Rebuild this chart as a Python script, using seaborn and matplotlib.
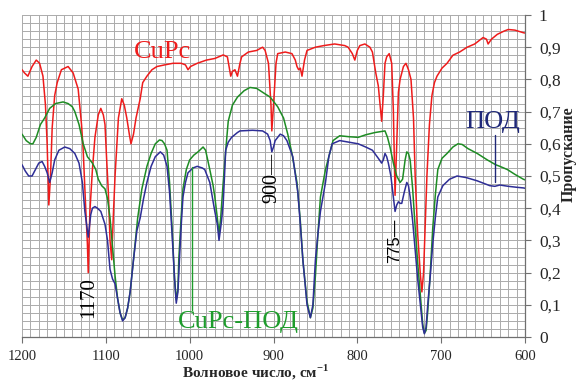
import numpy as np
import pandas as pd
import matplotlib
matplotlib.use("Agg")
import matplotlib.pyplot as plt
from matplotlib.ticker import FuncFormatter
import seaborn as sns

# ---------------- data (wavenumber, transmittance) ----------------
cupc_w = [1200, 1197, 1193, 1188, 1183, 1179, 1175, 1172, 1170, 1168, 1166, 1164, 1161, 1158,
          1153, 1145, 1139, 1133, 1129, 1127, 1124, 1122, 1121, 1119, 1116, 1113, 1109, 1106,
          1103, 1101, 1099, 1097, 1095, 1093, 1091, 1089, 1085, 1081, 1078, 1075, 1072, 1070,
          1067, 1064, 1059, 1056, 1051, 1045, 1039, 1030, 1020, 1010, 1005, 1002, 999, 991,
          980, 970, 960, 955, 951, 949, 946, 943, 940, 938, 930, 920, 913, 910, 906, 903, 902,
          900, 897, 895, 886, 878, 874, 872, 870, 868, 866, 863, 860, 850, 840, 827, 815, 811,
          806, 803, 800, 797, 791, 785, 782, 778, 775, 772, 771, 769, 767, 765, 762, 759, 757,
          755, 753, 751, 749, 745, 742, 739, 736, 733, 731, 728, 725, 723, 721, 719, 717, 714,
          711, 708, 705, 699, 693, 686, 678, 669, 660, 650, 646, 644, 640, 633, 625, 620, 612,
          602, 600]
cupc_t = [0.83, 0.82, 0.81, 0.84, 0.86, 0.85, 0.81, 0.72, 0.60, 0.41, 0.50, 0.65, 0.75, 0.79,
          0.83, 0.84, 0.82, 0.77, 0.66, 0.58, 0.40, 0.29, 0.20, 0.39, 0.52, 0.62, 0.69, 0.71,
          0.69, 0.66, 0.55, 0.45, 0.30, 0.24, 0.38, 0.50, 0.68, 0.74, 0.72, 0.68, 0.63, 0.60,
          0.63, 0.68, 0.74, 0.79, 0.81, 0.83, 0.84, 0.845, 0.85, 0.85, 0.845, 0.83, 0.84, 0.85,
          0.86, 0.865, 0.876, 0.87, 0.81, 0.825, 0.83, 0.81, 0.85, 0.87, 0.885, 0.89, 0.90, 0.89,
          0.85, 0.72, 0.64, 0.72, 0.85, 0.88, 0.885, 0.88, 0.86, 0.84, 0.83, 0.835, 0.81, 0.86,
          0.89, 0.90, 0.905, 0.91, 0.905, 0.90, 0.88, 0.86, 0.89, 0.905, 0.91, 0.90, 0.885, 0.82,
          0.78, 0.70, 0.67, 0.75, 0.85, 0.87, 0.88, 0.85, 0.70, 0.44, 0.60, 0.76, 0.80, 0.84,
          0.85, 0.83, 0.80, 0.68, 0.50, 0.32, 0.20, 0.14, 0.20, 0.35, 0.50, 0.66, 0.75, 0.79,
          0.81, 0.835, 0.85, 0.875, 0.885, 0.90, 0.91, 0.93, 0.925, 0.91, 0.925, 0.94, 0.95,
          0.955, 0.953, 0.945, 0.944]

mix_w = [1200, 1195, 1190, 1187, 1183, 1178, 1173, 1167, 1160, 1151, 1145, 1140, 1137, 1132,
         1127, 1122, 1116, 1112, 1109, 1105, 1101, 1098, 1095, 1092, 1089, 1086, 1083, 1080,
         1077, 1074, 1071, 1067, 1062, 1057, 1051, 1046, 1041, 1036, 1033, 1030, 1027, 1024,
         1021, 1018, 1016, 1014, 1013, 1010, 1008, 1004, 1000, 995, 990, 984, 981, 976, 972,
         970, 967, 965, 963, 960, 957, 954, 949, 943, 935, 928, 920, 913, 904, 895, 888, 883,
         878, 872, 868, 865, 860, 856, 853, 850, 847, 844, 838, 833, 829, 821, 810, 799, 790,
         779, 772, 767, 764, 761, 757, 753, 749, 746, 743, 741, 739, 737, 734, 731, 728, 725,
         722, 720, 718, 716, 713, 710, 707, 704, 699, 693, 686, 680, 675, 668, 657, 645, 635,
         630, 621, 612, 602, 600]
mix_t = [0.63, 0.61, 0.60, 0.60, 0.62, 0.66, 0.68, 0.71, 0.725, 0.73, 0.725, 0.715, 0.70,
         0.66, 0.60, 0.56, 0.54, 0.52, 0.49, 0.47, 0.46, 0.43, 0.37, 0.28, 0.19, 0.12, 0.075,
         0.053, 0.06, 0.09, 0.14, 0.24, 0.37, 0.46, 0.53, 0.57, 0.60, 0.612, 0.61, 0.60, 0.58,
         0.48, 0.34, 0.18, 0.115, 0.15, 0.24, 0.38, 0.46, 0.52, 0.55, 0.565, 0.575, 0.59, 0.58,
         0.52, 0.47, 0.435, 0.37, 0.32, 0.37, 0.48, 0.58, 0.67, 0.72, 0.745, 0.765, 0.775,
         0.772, 0.76, 0.745, 0.715, 0.68, 0.63, 0.57, 0.48, 0.36, 0.24, 0.11, 0.06, 0.09, 0.19,
         0.32, 0.435, 0.52, 0.57, 0.61, 0.625, 0.622, 0.62, 0.628, 0.635, 0.638, 0.64, 0.62,
         0.59, 0.54, 0.50, 0.48, 0.49, 0.55, 0.575, 0.57, 0.55, 0.46, 0.34, 0.23, 0.135, 0.04,
         0.012, 0.02, 0.08, 0.20, 0.34, 0.44, 0.52, 0.555, 0.57, 0.59, 0.60, 0.598, 0.585,
         0.57, 0.55, 0.535, 0.53, 0.52, 0.505, 0.49, 0.488]

pod_w = [1200, 1196, 1192, 1188, 1184, 1180, 1176, 1173, 1170, 1167, 1164, 1161, 1156, 1149,
         1143, 1137, 1132, 1128, 1125, 1121, 1118, 1116, 1113, 1110, 1106, 1101, 1098, 1095,
         1092, 1089, 1086, 1083, 1080, 1077, 1074, 1071, 1067, 1063, 1059, 1055, 1051, 1046,
         1041, 1035, 1031, 1027, 1024, 1021, 1018, 1016, 1014, 1012, 1010, 1008, 1005, 1002,
         996, 991, 985, 982, 976, 973, 970, 967, 965, 962, 960, 957, 954, 950, 943, 940, 925,
         913, 907, 904, 902, 900, 898, 892, 888, 884, 877, 871, 868, 865, 860, 856, 853, 850,
         847, 844, 838, 834, 830, 821, 810, 799, 790, 782, 775, 771, 769, 767, 765, 763, 760,
         757, 755, 753, 751, 749, 747, 744, 741, 739, 737, 734, 731, 728, 725, 722, 720, 718,
         716, 713, 710, 707, 704, 698, 690, 681, 670, 657, 642, 636, 633, 630, 620, 610, 602,
         600]
pod_t = [0.535, 0.515, 0.50, 0.50, 0.52, 0.54, 0.545, 0.53, 0.51, 0.48, 0.51, 0.55, 0.58,
         0.59, 0.585, 0.57, 0.54, 0.48, 0.39, 0.31, 0.38, 0.40, 0.405, 0.40, 0.39, 0.35, 0.30,
         0.21, 0.18, 0.165, 0.12, 0.075, 0.05, 0.06, 0.09, 0.14, 0.24, 0.33, 0.37, 0.43, 0.48,
         0.53, 0.56, 0.575, 0.565, 0.53, 0.45, 0.32, 0.18, 0.105, 0.14, 0.25, 0.35, 0.435, 0.48,
         0.51, 0.525, 0.53, 0.525, 0.52, 0.48, 0.435, 0.39, 0.35, 0.30, 0.36, 0.415, 0.58,
         0.605, 0.62, 0.635, 0.64, 0.642, 0.64, 0.63, 0.61, 0.575, 0.59, 0.61, 0.63, 0.625,
         0.61, 0.56, 0.45, 0.35, 0.24, 0.10, 0.06, 0.10, 0.24, 0.32, 0.39, 0.48, 0.56, 0.60,
         0.61, 0.605, 0.60, 0.59, 0.58, 0.555, 0.54, 0.55, 0.57, 0.56, 0.54, 0.50, 0.435, 0.39,
         0.41, 0.42, 0.415, 0.415, 0.45, 0.48, 0.47, 0.435, 0.36, 0.27, 0.18, 0.105, 0.03,
         0.01, 0.03, 0.10, 0.19, 0.29, 0.37, 0.435, 0.47, 0.49, 0.50, 0.495, 0.485, 0.47,
         0.468, 0.47, 0.472, 0.468, 0.465, 0.463, 0.462]

series_names = ["CuPc", "CuPc-ПОД", "ПОД"]
series_colors = ["#ee1c1c", "#1e8c24", "#2e2e96"]

x_ticks = [1200, 1100, 1000, 900, 800, 700, 600]
y_ticks = [0, 0.1, 0.2, 0.3, 0.4, 0.5, 0.6, 0.7, 0.8, 0.9, 1.0]

# ---------------- build long table ----------------
df = pd.concat([
    pd.DataFrame({"w": cupc_w, "T": cupc_t, "series": "CuPc"}),
    pd.DataFrame({"w": mix_w, "T": mix_t, "series": "CuPc-ПОД"}),
    pd.DataFrame({"w": pod_w, "T": pod_t, "series": "ПОД"}),
], ignore_index=True)

sns.set_theme(style="white")
plt.rcParams["font.family"] = ["Liberation Serif", "DejaVu Serif"]

fig = plt.figure(figsize=(5.76, 3.83), dpi=100)
ax = fig.add_axes([22 / 576, 1 - 337 / 383, 503 / 576, 322 / 383])

sns.lineplot(data=df, x="w", y="T", hue="series", hue_order=series_names,
             palette=dict(zip(series_names, series_colors)), estimator=None,
             sort=False, linewidth=1.1, legend=False, ax=ax)

ax.set_xlim(1200, 600)
ax.set_ylim(0, 1)

# grid
ax.set_xticks(x_ticks)
ax.set_xticks(np.arange(600, 1201, 10), minor=True)
ax.set_yticks(y_ticks)
ax.set_yticks(np.arange(0, 1.0001, 0.025), minor=True)
ax.grid(which="both", color="#ababab", linewidth=0.7)
ax.set_axisbelow(True)

ax.yaxis.tick_right()
ax.yaxis.set_label_position("right")
ax.yaxis.set_major_formatter(FuncFormatter(lambda v, p: ("%g" % round(v, 2)).replace(".", ",")))
ax.tick_params(axis="x", which="major", direction="out", length=4, width=0.8,
               color="#6f6f6f", labelsize=10.5, pad=5, bottom=True)
ax.tick_params(axis="y", which="major", direction="out", length=4, width=0.8,
               color="#6f6f6f", labelsize=12.5, pad=6, right=True, left=False)
ax.tick_params(which="minor", length=0)

for side in ["left", "top"]:
    ax.spines[side].set_visible(False)
for side in ["right", "bottom"]:
    ax.spines[side].set_visible(True)
    ax.spines[side].set_color("#6f6f6f")
    ax.spines[side].set_linewidth(0.9)

ax.set_xlabel("Волновое число, см$^{\\mathregular{-1}}$", fontsize=11, fontweight="bold",
              va="bottom")
ax.xaxis.set_label_coords(0.465, -0.14)
ax.set_ylabel("")
fig.text(0.987, 0.598, "Пропускание", rotation=90, fontsize=11.5, fontweight="bold",
         ha="center", va="center")

# annotations
ax.text(1032, 0.866, "CuPc", color="#ee1c1c", fontsize=19, ha="center", va="baseline")
ax.text(639, 0.649, "ПОД", color="#1f2878", fontsize=19, ha="center", va="baseline")
ax.plot([636, 636], [0.48, 0.627], color="#1f2878", lw=1)
ax.text(942, 0.028, "CuPc-ПОД", color="#1e9c2c", fontsize=19, ha="center", va="baseline")
ax.plot([997, 997], [0.084, 0.528], color="#1e9c2c", lw=1)
ax.text(1120, 0.124, "1170", rotation=90, fontsize=15, ha="center", va="center", color="black")
ax.text(902, 0.494, "900—", rotation=90, fontsize=14.5, ha="center", va="center", color="black")
ax.text(755, 0.298, "775—", rotation=90, fontsize=12, ha="center", va="center", color="black",
        family=["Liberation Sans", "DejaVu Sans"])

fig.savefig("out.png", dpi=100)
